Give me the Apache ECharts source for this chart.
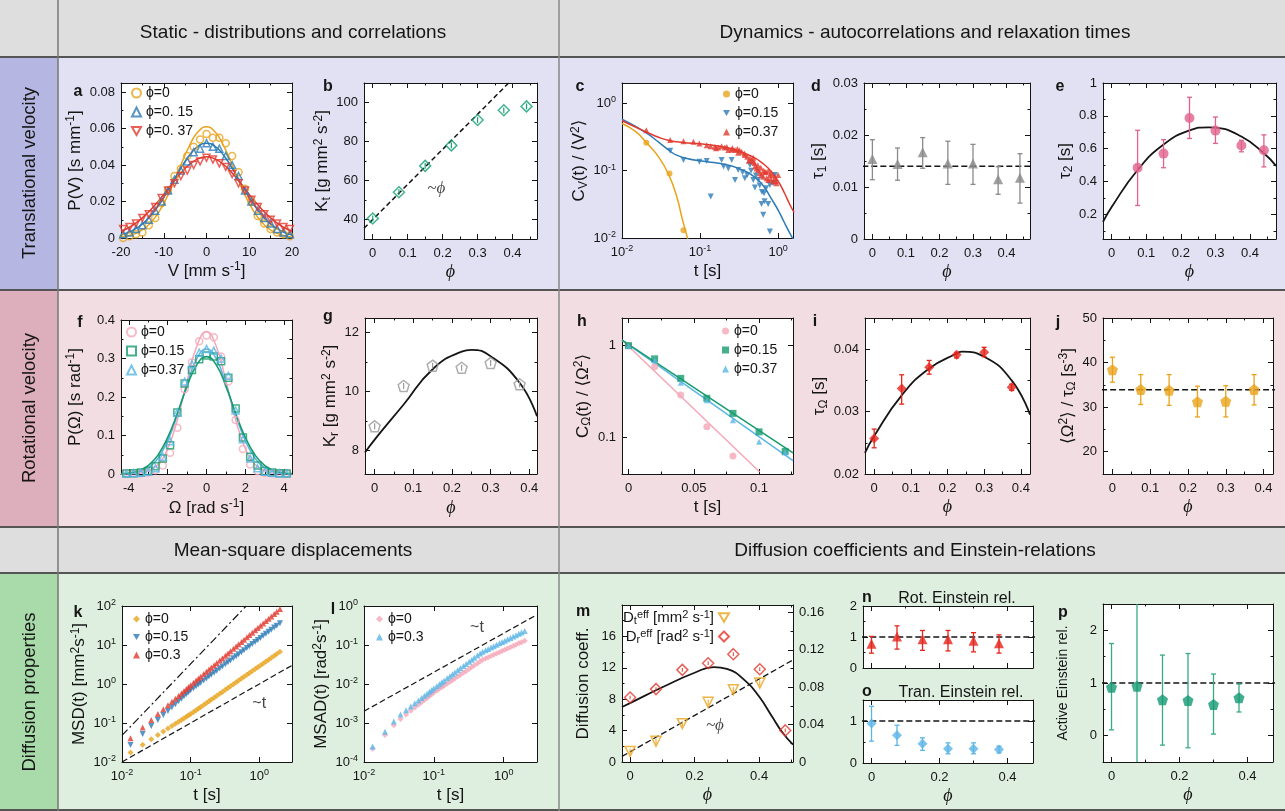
<!DOCTYPE html>
<html><head><meta charset="utf-8">
<script src="https://cdn.jsdelivr.net/npm/echarts@6/dist/echarts.min.js"></script>
<style>html,body{margin:0;padding:0;background:#fff}#c{width:1285px;height:811px}</style>
</head><body><div id="c"></div>
<script>
// ================= DATA =================
const phi7 = [0, 0.075, 0.15, 0.225, 0.3, 0.375, 0.44];
const phi6 = [0, 0.075, 0.15, 0.225, 0.3, 0.375];
// a: velocity distributions
const aV  = [-19.5,-18,-16.5,-15,-13.5,-12,-10.5,-9,-7.5,-6,-4.5,-3,-1.5,0,1.5,3,4.5,6,7.5,9,10.5,12,13.5,15,16.5,18,19.5];
const aP0 = [0.000,0.001,0.002,0.003,0.007,0.011,0.019,0.026,0.034,0.038,0.045,0.050,0.054,0.057,0.055,0.055,0.052,0.045,0.036,0.027,0.020,0.012,0.008,0.005,0.003,0.002,0.001];
const aP1 = [0.002,0.003,0.005,0.007,0.010,0.015,0.020,0.026,0.032,0.037,0.042,0.047,0.049,0.052,0.050,0.049,0.045,0.040,0.034,0.026,0.020,0.015,0.011,0.008,0.005,0.003,0.002];
const aP2 = [0.005,0.006,0.008,0.011,0.013,0.017,0.022,0.026,0.030,0.034,0.037,0.040,0.042,0.044,0.043,0.041,0.039,0.035,0.030,0.026,0.021,0.017,0.013,0.010,0.008,0.006,0.005];
const aCx = [-20,-18,-16,-14,-12,-10,-8,-6,-4,-2,0,2,4,6,8,10,12,14,16,18,20];
const aC0 = [0.0006,0.0014,0.0031,0.0062,0.0113,0.0189,0.0289,0.0400,0.0506,0.0582,0.0610,0.0582,0.0506,0.0400,0.0289,0.0189,0.0113,0.0062,0.0031,0.0014,0.0006];
const aC1 = [0.0017,0.0033,0.0059,0.0098,0.0153,0.0222,0.0302,0.0383,0.0454,0.0503,0.0520,0.0503,0.0454,0.0383,0.0302,0.0222,0.0153,0.0098,0.0059,0.0033,0.0017];
const aC2 = [0.0037,0.0059,0.0091,0.0132,0.0182,0.0239,0.0299,0.0356,0.0403,0.0434,0.0445,0.0434,0.0403,0.0356,0.0299,0.0239,0.0182,0.0132,0.0091,0.0059,0.0037];
// b: translational kinetic energy
const bKt = [40.5, 54, 67.5, 78, 91, 96, 98];
const bKtLo = [39, 52.5, 66, 76.5, 89.5, 94.5, 96.5];
const bKtHi = [42, 55.5, 69, 79.5, 92.5, 97.5, 99.5];
const bLine = [[-0.025, 35.5], [0.5, 130]];
// c: velocity autocorrelation
const cPts0 = [[0.0205,0.26],[0.0406,0.091],[0.0612,0.013]];
const cFit0 = [[0.01,0.50],[0.015,0.38],[0.02,0.27],[0.03,0.155],[0.04,0.085],[0.05,0.042],[0.06,0.018],[0.07,0.0095]];
const cPts1 = [[0.0414,0.197],[0.0613,0.144],[0.098,0.136],[0.1217,0.139],[0.1368,0.0412],[0.189,0.144],[0.2,0.115],[0.23,0.108],[0.254,0.144],[0.28,0.0727],[0.308,0.102],[0.35,0.095],[0.375,0.0769],[0.402,0.0861],[0.435,0.121],[0.45,0.1],[0.48,0.0727],[0.504,0.056],[0.52,0.085],[0.556,0.0727],[0.58,0.06],[0.612,0.0321],[0.62,0.048],[0.644,0.0221],[0.66,0.0462],[0.67,0.035],[0.7,0.055],[0.745,0.0321],[0.783,0.0614],[0.783,0.0125],[0.863,0.0649],[0.906,0.0861]];
const cFit1 = [[0.01,0.58],[0.02,0.37],[0.03,0.26],[0.04,0.2],[0.05,0.17],[0.07,0.15],[0.1,0.14],[0.15,0.132],[0.2,0.125],[0.3,0.11],[0.4,0.095],[0.5,0.08],[0.6,0.066],[0.7,0.052],[0.8,0.04],[1.0,0.026],[1.2,0.017],[1.4,0.012],[1.6,0.009]];
const cPts2 = [[0.0205,0.398],[0.0414,0.284],[0.0613,0.274],[0.0822,0.268],[0.098,0.253],[0.1217,0.239],[0.1368,0.231],[0.155,0.226],[0.16,0.215],[0.171,0.221],[0.189,0.231],[0.208,0.221],[0.22,0.225],[0.23,0.202],[0.254,0.206],[0.26,0.215],[0.28,0.202],[0.3,0.21],[0.308,0.184],[0.32,0.2],[0.34,0.19],[0.37,0.18],[0.375,0.17],[0.402,0.161],[0.42,0.14],[0.435,0.152],[0.457,0.144],[0.48,0.136],[0.48,0.155],[0.5,0.13],[0.504,0.115],[0.529,0.108],[0.55,0.12],[0.556,0.102],[0.583,0.0912],[0.6,0.11],[0.612,0.0861],[0.644,0.0814],[0.65,0.1],[0.676,0.0966],[0.7,0.095],[0.71,0.0769],[0.745,0.0727],[0.75,0.1],[0.783,0.0861],[0.8,0.075],[0.822,0.0912],[0.863,0.0687],[0.88,0.085],[0.906,0.0769],[0.93,0.07],[0.952,0.0649],[1.0,0.0861]];
const cFit2 = [[0.01,0.55],[0.02,0.38],[0.03,0.31],[0.04,0.28],[0.06,0.262],[0.1,0.25],[0.15,0.237],[0.2,0.225],[0.3,0.2],[0.4,0.175],[0.5,0.155],[0.6,0.135],[0.8,0.1],[1.0,0.07],[1.2,0.047],[1.4,0.032],[1.6,0.024]];
// d: tau1
const dTau = [0.0154,0.0144,0.0167,0.0145,0.0145,0.0115,0.0118];
const dLo  = [0.0114,0.0113,0.0136,0.0105,0.0105,0.0086,0.0069];
const dHi  = [0.0191,0.0175,0.0195,0.0188,0.0182,0.0139,0.0164];
const dMean = [[-0.03,0.014],[0.5,0.014]];
// e: tau2
const ePhi = [0.075, 0.15, 0.225, 0.3, 0.375, 0.44];
const eTau = [0.484,0.570,0.787,0.710,0.619,0.590];
const eLo  = [0.254,0.484,0.662,0.632,0.581,0.489];
const eHi  = [0.712,0.655,0.913,0.793,0.651,0.684];
const eFitX = [-0.025,0,0.075,0.15,0.225,0.28,0.3,0.375,0.44,0.475];
const eFitY = [0.154,0.245,0.47,0.625,0.711,0.73,0.728,0.674,0.572,0.495];
// f: angular velocity distributions
const fW  = [-4.125,-3.75,-3.375,-3,-2.625,-2.25,-1.875,-1.5,-1.125,-0.75,-0.375,0,0.375,0.75,1.125,1.5,1.875,2.25,2.625,3,3.375,3.75,4.125];
const fP0 = [0.001,0.001,0.002,0.004,0.010,0.022,0.055,0.12,0.22,0.29,0.345,0.36,0.355,0.305,0.24,0.14,0.065,0.025,0.008,0.003,0.002,0.001,0.001];
const fP1 = [0.001,0.002,0.004,0.008,0.020,0.040,0.075,0.16,0.235,0.27,0.298,0.308,0.305,0.293,0.25,0.17,0.095,0.045,0.022,0.008,0.004,0.002,0.001];
const fP2 = [0.001,0.002,0.003,0.006,0.015,0.045,0.085,0.16,0.24,0.285,0.315,0.325,0.32,0.30,0.255,0.165,0.09,0.04,0.015,0.006,0.003,0.002,0.001];
const fCx = [-4.4,-4,-3.5,-3,-2.5,-2,-1.5,-1,-0.5,0,0.5,1,1.5,2,2.5,3,3.5,4,4.4];
const fC0 = [0.0001,0.0004,0.0019,0.0077,0.025,0.066,0.141,0.241,0.332,0.370,0.332,0.241,0.141,0.066,0.025,0.0077,0.0019,0.0004,0.0001];
const fC1 = [0.0011,0.0028,0.0085,0.0219,0.0491,0.0946,0.158,0.2277,0.2835,0.305,0.2835,0.2277,0.158,0.0946,0.0491,0.0219,0.0085,0.0028,0.0011];
const fC2 = [0.0005,0.0016,0.0056,0.0164,0.041,0.0862,0.154,0.2333,0.299,0.325,0.299,0.2333,0.154,0.0862,0.041,0.0164,0.0056,0.0016,0.0005];
// g: rotational kinetic energy
const gKr = [8.82,10.19,10.88,10.81,10.97,10.25];
const gLo = [8.72,10.09,10.78,10.71,10.87,10.15];
const gHi = [8.92,10.29,10.98,10.91,11.07,10.35];
const gFitX = [-0.025,0,0.075,0.15,0.225,0.25,0.3,0.375,0.42];
const gFitY = [7.93,8.37,9.56,10.76,11.36,11.42,11.2,10.3,9.16];
// h: angular velocity autocorrelation
const hT  = [0, 0.02, 0.04, 0.06, 0.08, 0.1, 0.12];
const hC0 = [1.0, 0.588, 0.29, 0.131, 0.063];
const hC1 = [1.0, 0.718, 0.44, 0.267, 0.183, 0.115, 0.0705];
const hC2 = [1.0, 0.69, 0.394, 0.254, 0.154, 0.0897, 0.0687];
const hFit0 = [[-0.005,1.15],[0.1005,0.042]];
const hFit1 = [[-0.005,1.15],[0.126,0.068]];
const hFit2 = [[-0.005,1.15],[0.126,0.056]];
// i: tau_Omega
const iTau = [0.0257,0.0337,0.0371,0.0391,0.0395,0.0339];
const iLo  = [0.0242,0.0312,0.0360,0.0386,0.0388,0.0334];
const iHi  = [0.0272,0.0359,0.0382,0.0395,0.0403,0.0344];
const iFitX = [-0.025,0,0.075,0.15,0.225,0.24,0.3,0.375,0.425];
const iFitY = [0.0234,0.0261,0.0326,0.0369,0.0393,0.0396,0.0388,0.0350,0.0295];
// j: <Omega^2>/tau_Omega
const jVal = [38.4,33.95,33.8,31.2,31.3,33.95];
const jLo  = [35.6,30.6,30.4,27.8,27.8,30.5];
const jHi  = [41.2,37.3,37.3,34.7,34.8,37.3];
const jMean = [[-0.03,33.9],[0.45,33.9]];
// k: MSD
const kT = [0.0133,0.02,0.0267,0.0333,0.04,0.0467,0.0533,0.06,0.0667,0.0733,0.08,0.0867,0.0933,0.1,0.11,0.12,0.13,0.14,0.155,0.17,0.185,0.2,0.22,0.24,0.265,0.29,0.32,0.35,0.38,0.42,0.46,0.5,0.55,0.6,0.66,0.72,0.79,0.87,0.95,1.04,1.14,1.25,1.37,1.5,1.65,1.8,2.0];
const kMsd0 = [0.0174,0.0276,0.0383,0.049,0.0604,0.0719,0.0835,0.0955,0.1075,0.1197,0.1321,0.1446,0.1573,0.17,0.191,0.2125,0.2344,0.2567,0.2908,0.326,0.3613,0.3976,0.4467,0.4971,0.5617,0.6275,0.7075,0.7898,0.8738,0.9872,1.104,1.223,1.374,1.53,1.718,1.912,2.142,2.411,2.686,3.002,3.361,3.762,4.204,4.702,5.285,5.877,6.693];
const kMsd1 = [0.0274,0.0526,0.0835,0.1187,0.1593,0.204,0.252,0.3045,0.361,0.419,0.483,0.549,0.618,0.69,0.782,0.877,0.975,1.075,1.23,1.391,1.554,1.722,1.952,2.19,2.499,2.815,3.203,3.607,4.019,4.586,5.171,5.772,6.553,7.343,8.33,9.345,10.56,11.99,13.46,15.18,17.15,19.36,21.82,24.63,27.91,31.31,36.01];
const kMsd2 = [0.0408,0.0768,0.12,0.169,0.225,0.286,0.351,0.421,0.496,0.574,0.658,0.745,0.836,0.93,1.073,1.222,1.378,1.539,1.794,2.063,2.34,2.631,3.033,3.457,4.016,4.597,5.324,6.094,6.891,8.006,9.174,10.4,12.0,13.67,15.77,17.97,20.66,23.86,27.23,31.2,35.82,41.12,47.15,54.02,62.32,70.97,83.2];
const kBallistic = [[0.01,0.048],[0.646,100]];
const kLinear = [[0.01,0.01],[3,3]];
// l: MSAD
const lMsad0 = [2.19e-4,4.9e-4,8.71e-4,1.27e-3,1.65e-3,2.05e-3,2.48e-3,2.92e-3,3.4e-3,3.88e-3,4.4e-3,4.92e-3,5.46e-3,6.03e-3,6.75e-3,7.5e-3,8.26e-3,9.02e-3,0.0102,0.0114,0.0126,0.0138,0.0155,0.0172,0.0194,0.0216,0.0243,0.0271,0.0299,0.0337,0.0377,0.0417,0.045,0.0483,0.0522,0.056,0.0605,0.0655,0.0703,0.0757,0.0815,0.0879,0.0948,0.1019,0.1102,0.118,0.1288];
const lMsad1 = [2.51e-4,5.96e-4,1.1e-3,1.64e-3,2.12e-3,2.64e-3,3.19e-3,3.77e-3,4.38e-3,5.0e-3,5.66e-3,6.34e-3,7.03e-3,7.76e-3,8.81e-3,9.91e-3,0.01104,0.01219,0.014,0.0158,0.0177,0.0197,0.0224,0.0252,0.0288,0.0324,0.0371,0.0419,0.0468,0.0535,0.0605,0.0676,0.0735,0.0794,0.0865,0.0931,0.1012,0.1102,0.1189,0.1288,0.1396,0.1514,0.1644,0.1778,0.1932,0.2084,0.2291];
const lLinear = [[0.01,0.002],[3,0.6]];
// m: diffusion coefficients
const mPhi = [0, 0.0804, 0.162, 0.242, 0.32, 0.402, 0.481];
const mDt  = [1.35, 2.63, 4.88, 7.6, 9.2, 10.06];
const mDr  = [0.069, 0.078, 0.0986, 0.1057, 0.1154, 0.0993, 0.0338];
const mDrFit = [[-0.025,0.0588],[0,0.063],[0.1,0.080],[0.2,0.0955],[0.26,0.1015],[0.3,0.0996],[0.36,0.086],[0.4,0.070],[0.44,0.0487],[0.47,0.0327],[0.505,0.0185]];
const mDtLine = [[-0.025,0.71],[0.505,13.0]];
// n, o, p: Einstein relations
const nRot = [0.78,1.02,0.93,0.93,0.88,0.80];
const nLo  = [0.48,0.61,0.57,0.55,0.52,0.48];
const nHi  = [1.02,1.36,1.21,1.21,1.14,1.07];
const oTra = [0.94,0.66,0.46,0.34,0.34,0.32];
const oLo  = [0.52,0.42,0.30,0.22,0.22,0.24];
const oHi  = [1.35,0.90,0.60,0.48,0.48,0.40];
const pAct = [0.92,0.94,0.68,0.67,0.59,0.72];
const pLo  = [0.11,-1.5,-0.18,-0.23,0.03,0.45];
const pHi  = [1.75,3.4,1.53,1.56,1.17,0.98];
const unity = [[-0.03,1],[0.5,1]];

// ================= STYLE / HELPERS =================
const FONT = '"Liberation Sans", Arial, "DejaVu Sans", sans-serif';
const INK = '#151515';
const YEL='#e9a41d', BLU='#2c7bb6', RED='#e23a2f', GRN='#17a077', GRY='#8a8a8a', PNK='#e0628d',
      LPK='#f5a7b8', TEAL='#179b6e', LBL='#5bb5e6', RED2='#e5251d', ORG='#eaa21a', TEAL2='#139a73';
const PENT = 'path://M0,-10L9.51,-3.09L5.88,8.09L-5.88,8.09L-9.51,-3.09Z';
const TDOWN = 'path://M-10,-8.66L10,-8.66L0,8.66Z';
const RICH = {
  sub: {fontSize: 12, lineHeight: 12, verticalAlign: 'bottom', fontFamily: FONT, color: INK},
  sup: {fontSize: 12, lineHeight: 12, verticalAlign: 'top', fontFamily: FONT, color: INK}
};
const RICHS = {
  sub: {fontSize: 10, lineHeight: 10, verticalAlign: 'bottom', fontFamily: FONT, color: INK},
  sup: {fontSize: 10, lineHeight: 10, verticalAlign: 'top', fontFamily: FONT, color: INK}
};
const RICHM = {
  b: {fontSize: 15, fontFamily: FONT, color: INK},
  sub: {fontSize: 11, lineHeight: 11, verticalAlign: 'bottom', fontFamily: FONT, color: INK},
  sup: {fontSize: 11, lineHeight: 11, verticalAlign: 'top', fontFamily: FONT, color: INK}
};
const RICHL = {s: {fontSize: 9, lineHeight: 9, verticalAlign: 'top', fontFamily: FONT, color: INK}};
const NAME = {fontSize: 17, fontFamily: FONT, color: INK, lineHeight: 20, rich: RICH};
const NAME14 = {fontSize: 14, fontFamily: FONT, color: INK, lineHeight: 18, rich: RICHS};
const PHI = {fontSize: 18, fontFamily: '"Liberation Serif", "DejaVu Serif", serif', fontStyle: 'italic', color: INK, lineHeight: 20};
const pow10 = v => '10{s|' + Math.round(Math.log10(v)) + '}';

const grids = [], xAxis = [], yAxis = [], series = [], legends = [], gfx = [];

function mkAxis(o, gi, pos, mirror) {
  const log = o.type === 'log';
  const ax = {
    gridIndex: gi, type: log ? 'log' : 'value', position: pos, logBase: 10,
    min: o.min, max: o.max,
    axisLine: {show: true, onZero: false, lineStyle: {color: INK, width: 1}},
    axisTick: {show: true, inside: true, length: 5, lineStyle: {color: INK, width: 1}},
    minorTick: {show: !log && !!o.minor, splitNumber: o.minor || 2, length: 2.5, lineStyle: {color: INK, width: 1}},
    splitLine: {show: false},
    axisLabel: {show: !mirror && o.labels !== false, fontSize: 13, fontFamily: FONT, color: INK, margin: 6,
      showMinLabel: !!o.showMin, showMaxLabel: !!o.showMax, rich: RICHL, lineHeight: 16},
    silent: true
  };
  if (o.fmt) ax.axisLabel.formatter = o.fmt;
  if (o.interval !== undefined) ax.interval = o.interval;
  if (o.split !== undefined) ax.splitNumber = o.split;
  if (!mirror && o.name) {
    ax.name = o.name; ax.nameLocation = 'middle'; ax.nameGap = o.gap;
    ax.nameTextStyle = o.phi ? PHI : (o.small ? NAME14 : NAME);
  }
  return ax;
}
function panel(box, xo, yo, y2o) {
  const gi = grids.length;
  grids.push({left: box[0], top: box[1], width: box[2] - box[0], height: box[3] - box[1],
    show: true, backgroundColor: '#fff', borderWidth: 0});
  const xi = xAxis.length;
  xAxis.push(mkAxis(xo, gi, 'bottom', false));
  xAxis.push(mkAxis(xo, gi, 'top', true));
  const yi = yAxis.length;
  yAxis.push(mkAxis(yo, gi, 'left', false));
  yAxis.push(y2o ? mkAxis(y2o, gi, 'right', false) : mkAxis(yo, gi, 'right', true));
  return {x: xi, y: yi, y2: yi + 1};
}
const zip = (xs, ys) => xs.map((x, i) => [x, ys[i]]);
const zip3 = (xs, a, b) => xs.map((x, i) => [x, a[i], b[i]]);
const hol = c => ({color: 'rgba(255,255,255,0)', borderColor: c, borderWidth: 1.5});
const fil = c => ({color: c});
function sc(P, name, data, symbol, size, style, yi) {
  series.push({type: 'scatter', name, xAxisIndex: P.x, yAxisIndex: yi === undefined ? P.y : yi, data,
    symbol, symbolSize: size, itemStyle: style, z: 5, silent: true, clip: true});
}
function ln(P, data, color, w, opt, yi) {
  opt = opt || {};
  series.push({type: 'line', xAxisIndex: P.x, yAxisIndex: yi === undefined ? P.y : yi, data,
    showSymbol: false, symbol: 'none', smooth: opt.smooth || false, clip: true, z: 3, silent: true,
    lineStyle: {color, width: w, type: opt.dash || 'solid'}});
}
function err(P, data, color, cap, w, yi) {
  series.push({type: 'custom', xAxisIndex: P.x, yAxisIndex: yi === undefined ? P.y : yi, data, clip: true, z: 4, silent: true,
    renderItem: (params, api) => {
      const x = api.value(0), a = api.coord([x, api.value(1)]), b = api.coord([x, api.value(2)]);
      const st = {stroke: color, lineWidth: w || 1.2, fill: null};
      return {type: 'group', children: [
        {type: 'line', shape: {x1: a[0], y1: a[1], x2: b[0], y2: b[1]}, style: st},
        {type: 'line', shape: {x1: a[0] - cap, y1: a[1], x2: a[0] + cap, y2: a[1]}, style: st},
        {type: 'line', shape: {x1: b[0] - cap, y1: b[1], x2: b[0] + cap, y2: b[1]}, style: st}
      ]};
    }});
}
function note(P, pos, text, style, yi) {
  series.push({type: 'scatter', xAxisIndex: P.x, yAxisIndex: yi === undefined ? P.y : yi, data: [pos],
    symbolSize: 1, itemStyle: {color: 'rgba(0,0,0,0)'}, z: 6, silent: true,
    label: {show: true, position: 'inside', formatter: text, ...style}});
}
const LAB = {};
function leg(items, left, top, opt) {
  items.forEach(it => { LAB[it[0]] = it[1]; });
  legends.push(Object.assign({
    orient: 'vertical', left, top, itemGap: 3, itemWidth: 9, itemHeight: 9, selectedMode: false, padding: 0,
    textStyle: {fontSize: 14, fontFamily: FONT, color: INK, rich: RICHS, lineHeight: 16},
    formatter: n => LAB[n], data: items.map(it => it[0])
  }, opt || {}));
}
const NOTE = {fontSize: 17, fontFamily: '"Liberation Serif", "DejaVu Serif", serif', fontStyle: 'italic', color: INK};
const NOTE_T = {fontSize: 16, fontFamily: FONT, color: INK};

// ================= PANELS =================
// a
const pa = panel([121, 83, 292, 238],
  {min: -20, max: 20, interval: 10, minor: 2, showMin: true, showMax: true, name: 'V [mm s{sup|-1}]', gap: 22},
  {min: 0, max: 0.085, interval: 0.02, minor: 2, showMin: true, name: 'P(V) [s mm{sup|-1}]', gap: 36});
ln(pa, zip(aCx, aC0), YEL, 1.5, {smooth: true});
ln(pa, zip(aCx, aC1), BLU, 1.5, {smooth: true});
ln(pa, zip(aCx, aC2), RED, 1.5, {smooth: true});
sc(pa, 'a0', zip(aV, aP0), 'circle', 7, hol(YEL));
sc(pa, 'a1', zip(aV, aP1), 'triangle', 7, hol(BLU));
sc(pa, 'a2', zip(aV, aP2), TDOWN, 7, hol(RED));
leg([['a0', 'ϕ=0'], ['a1', 'ϕ=0. 15'], ['a2', 'ϕ=0. 37']], 131, 85);

// b
const pb = panel([364, 83, 537, 239],
  {min: -0.025, max: 0.47, split: 5, minor: 2, name: 'ϕ', phi: true, gap: 22},
  {min: 30, max: 110, split: 4, minor: 2, name: 'K{sub|t} [g mm{sup|2} s{sup|-2}]', gap: 21});
ln(pb, bLine, INK, 1.5, {dash: [5, 3]});
err(pb, zip3(phi7, bKtLo, bKtHi), GRN, 0, 1.2);
sc(pb, 'b0', zip(phi7, bKt), 'diamond', 11, hol(GRN));
note(pb, [0.182, 55.8], '~ϕ', NOTE);

// c
const pc = panel([622, 83, 793, 238],
  {type: 'log', min: 0.01, max: 1.55, showMin: true, fmt: pow10, name: 't [s]', gap: 22},
  {type: 'log', min: 0.01, max: 2, showMin: true, fmt: pow10, name: 'C{sub|V}(t) / ⟨V{sup|2}⟩', gap: 27});
ln(pc, cFit0, YEL, 1.5, {smooth: true});
ln(pc, cFit1, BLU, 1.5, {smooth: true});
ln(pc, cFit2, RED, 1.5, {smooth: true});
sc(pc, 'c0', cPts0, 'circle', 6, fil(YEL));
sc(pc, 'c1', cPts1, TDOWN, 6, fil(BLU));
sc(pc, 'c2', cPts2, 'triangle', 6, fil(RED));
leg([['c0', 'ϕ=0'], ['c1', 'ϕ=0.15'], ['c2', 'ϕ=0.37']], 723, 86, {itemWidth: 7, itemHeight: 7, itemGap: 3});

// d
const pd = panel([864, 83, 1030, 239],
  {min: -0.025, max: 0.47, split: 5, minor: 2, name: 'ϕ', phi: true, gap: 22},
  {min: 0, max: 0.03, interval: 0.01, minor: 2, showMin: true, showMax: true, name: 'τ{sub|1} [s]', gap: 16});
ln(pd, dMean, INK, 1.5, {dash: [6, 3]});
err(pd, zip3(phi7, dLo, dHi), GRY, 2.5, 1.3);
sc(pd, 'd0', zip(phi7, dTau), 'triangle', 10, fil(GRY));

// e
const pe = panel([1103, 83, 1276, 239],
  {min: -0.025, max: 0.475, split: 5, minor: 2, name: 'ϕ', phi: true, gap: 22},
  {min: 0.05, max: 1, split: 5, minor: 2, showMax: true, name: 'τ{sub|2} [s]', gap: 25});
ln(pe, zip(eFitX, eFitY), INK, 1.8, {smooth: true});
err(pe, zip3(ePhi, eLo, eHi), PNK, 2.5, 1.3);
sc(pe, 'e0', zip(ePhi, eTau), 'circle', 10, fil(PNK));

// f
const pf = panel([121, 320, 292, 474],
  {min: -4.4, max: 4.4, split: 4, minor: 2, name: 'Ω [rad s{sup|-1}]', gap: 24},
  {min: 0, max: 0.4, interval: 0.1, minor: 2, showMin: true, showMax: true, name: 'P(Ω) [s rad{sup|-1}]', gap: 36});
ln(pf, zip(fCx, fC0), LPK, 1.5, {smooth: true});
ln(pf, zip(fCx, fC2), LBL, 1.5, {smooth: true});
ln(pf, zip(fCx, fC1), TEAL, 1.6, {smooth: true});
sc(pf, 'f0', zip(fW, fP0), 'circle', 7, hol(LPK));
sc(pf, 'f1', zip(fW, fP1), 'rect', 7, hol(TEAL));
sc(pf, 'f2', zip(fW, fP2), 'triangle', 7, hol(LBL));
leg([['f0', 'ϕ=0'], ['f1', 'ϕ=0.15'], ['f2', 'ϕ=0.37']], 126, 324);

// g
const pg = panel([365, 318, 537, 474],
  {min: -0.025, max: 0.42, split: 5, minor: 2, name: 'ϕ', phi: true, gap: 24},
  {min: 7.2, max: 12.5, split: 3, minor: 2, name: 'K{sub|r} [g mm{sup|2} s{sup|-2}]', gap: 22});
ln(pg, zip(gFitX, gFitY), INK, 1.8, {smooth: true});
err(pg, zip3(phi6, gLo, gHi), '#9a9a9a', 0, 1.2);
sc(pg, 'g0', zip(phi6, gKr), PENT, 11, hol('#9a9a9a'));

// h
const ph = panel([622, 318, 793, 474],
  {min: -0.005, max: 0.126, split: 3, minor: 2, name: 't [s]', gap: 19},
  {type: 'log', min: 0.04, max: 2, fmt: v => (Math.abs(v - 1) < 1e-6 ? '1' : Math.abs(v - 0.1) < 1e-6 ? '0.1' : ''), name: 'C{sub|Ω}(t) / ⟨Ω{sup|2}⟩', gap: 29});
ln(ph, hFit0, LPK, 1.5);
ln(ph, hFit2, LBL, 1.5);
ln(ph, hFit1, TEAL, 1.5);
sc(ph, 'h0', zip(hT.slice(0, 5), hC0), 'circle', 7, fil(LPK));
sc(ph, 'h1', zip(hT, hC1), 'rect', 7, fil(TEAL));
sc(ph, 'h2', zip(hT, hC2), 'triangle', 6, fil(LBL));
leg([['h0', 'ϕ=0'], ['h1', 'ϕ=0.15'], ['h2', 'ϕ=0.37']], 722, 323, {itemWidth: 7, itemHeight: 7, itemGap: 3});

// i
const pi = panel([865, 318, 1030, 474],
  {min: -0.025, max: 0.425, split: 5, minor: 2, name: 'ϕ', phi: true, gap: 19},
  {min: 0.02, max: 0.045, interval: 0.01, minor: 2, showMin: true, name: 'τ{sub|Ω} [s]', gap: 17});
ln(pi, zip(iFitX, iFitY), INK, 1.8, {smooth: true});
err(pi, zip3(phi6, iLo, iHi), RED2, 2.5, 1.3);
sc(pi, 'i0', zip(phi6, iTau), 'diamond', 10, fil(RED2));

// j
const pj = panel([1103, 318, 1273, 474],
  {min: -0.025, max: 0.425, split: 5, minor: 2, name: 'ϕ', phi: true, gap: 19},
  {min: 15, max: 50, split: 4, minor: 2, showMax: true, name: '⟨Ω{sup|2}⟩ / τ{sub|Ω} [s{sup|-3}]', gap: 25});
ln(pj, jMean, INK, 1.5, {dash: [6, 3]});
err(pj, zip3(phi6, jLo, jHi), ORG, 2.5, 1.3);
sc(pj, 'j0', zip(phi6, jVal), PENT, 11, fil(ORG));

// k
const pk = panel([122, 606, 292, 762],
  {type: 'log', min: 0.01, max: 3, showMin: true, fmt: pow10, name: 't [s]', gap: 20},
  {type: 'log', min: 0.01, max: 100, showMin: true, showMax: true, fmt: pow10, name: 'MSD(t) [mm{sup|2}s{sup|-1}]', gap: 32});
ln(pk, kBallistic, INK, 1.2, {dash: [8, 3, 2, 3]});
ln(pk, kLinear, INK, 1.2, {dash: [6, 3]});
sc(pk, 'k0', zip(kT, kMsd0), 'diamond', 6, fil(YEL));
sc(pk, 'k1', zip(kT, kMsd1), TDOWN, 6, fil(BLU));
sc(pk, 'k2', zip(kT, kMsd2), 'triangle', 6, fil(RED));
note(pk, [1.0, 0.315], '~t', NOTE_T);
leg([['k0', 'ϕ=0'], ['k1', 'ϕ=0.15'], ['k2', 'ϕ=0.3']], 133, 611, {itemWidth: 7, itemHeight: 7, itemGap: 2});

// l
const pl = panel([364, 606, 537, 762],
  {type: 'log', min: 0.01, max: 3, showMin: true, fmt: pow10, name: 't [s]', gap: 20},
  {type: 'log', min: 1e-4, max: 1, showMin: true, showMax: true, fmt: pow10, name: 'MSAD(t) [rad{sup|2}s{sup|-1}]', gap: 29});
ln(pl, lLinear, INK, 1.2, {dash: [6, 3]});
sc(pl, 'l0', zip(kT, lMsad0), 'diamond', 6, fil(LPK));
sc(pl, 'l1', zip(kT, lMsad1), 'triangle', 6, fil(LBL));
note(pl, [0.414, 0.285], '~t', NOTE_T);
leg([['l0', 'ϕ=0'], ['l1', 'ϕ=0.3']], 376, 611, {itemWidth: 7, itemHeight: 7, itemGap: 2});

// m
const pm = panel([622, 605, 793, 762],
  {min: -0.025, max: 0.505, split: 3, minor: 2, name: 'ϕ', phi: true, gap: 20},
  {min: 0, max: 20, interval: 4, minor: 2, showMin: true, name: 'Diffusion coeff.', gap: 29},
  {min: 0, max: 0.168, interval: 0.04, minor: 2, showMin: true});
ln(pm, mDtLine, INK, 1.3, {dash: [6, 3]});
ln(pm, mDrFit, INK, 1.8, {smooth: true}, pm.y2);
err(pm, zip3(mPhi.slice(0, 6), mDt.map(v => v - 0.35), mDt.map(v => v + 0.35)), ORG, 0, 1);
err(pm, zip3(mPhi, mDr.map(v => v - 0.002), mDr.map(v => v + 0.002)), RED, 0, 1, pm.y2);
sc(pm, 'm0', zip(mPhi.slice(0, 6), mDt), TDOWN, 10, hol(ORG));
sc(pm, 'm1', zip(mPhi, mDr), 'diamond', 11, hol(RED), pm.y2);
note(pm, [0.263, 4.62], '~ϕ', NOTE);
leg([['m0', 'D{sub|t}{sup|eff} [mm{sup|2} s{sup|-1}]'], ['m1', 'D{sub|r}{sup|eff} [rad{sup|2} s{sup|-1}]']], 623, 609,
  {align: 'right', itemWidth: 10, itemHeight: 10, itemGap: 2,
   textStyle: {fontSize: 15, fontFamily: FONT, color: INK, rich: RICHM, lineHeight: 17}});

// n
const pn = panel([863, 606, 1033, 668],
  {min: -0.025, max: 0.475, split: 3, minor: 2, labels: false},
  {min: 0, max: 2, interval: 1, minor: 2, showMin: true, showMax: true});
ln(pn, unity, INK, 1.5, {dash: [6, 3]});
err(pn, zip3(phi6, nLo, nHi), RED2, 2.5, 1.3);
sc(pn, 'n0', zip(phi6, nRot), 'triangle', 10, fil(RED2));

// o
const po = panel([863, 700, 1033, 763],
  {min: -0.025, max: 0.475, split: 3, minor: 2, name: 'ϕ', phi: true, gap: 18},
  {min: 0, max: 1.5, interval: 1, minor: 2, showMin: true});
ln(po, unity, INK, 1.5, {dash: [6, 3]});
err(po, zip3(phi6, oLo, oHi), LBL, 2.5, 1.3);
sc(po, 'o0', zip(phi6, oTra), 'diamond', 10, fil(LBL));

// p
const pp = panel([1103, 604, 1273, 762],
  {min: -0.025, max: 0.475, split: 3, minor: 2, name: 'ϕ', phi: true, gap: 19},
  {min: -0.5, max: 2.5, split: 3, minor: 2, name: 'Active Einstein rel.', gap: 31, small: true});
ln(pp, unity, INK, 1.5, {dash: [6, 3]});
err(pp, zip3(phi6, pLo, pHi), '#3aaa85', 2.5, 1.3);
sc(pp, 'p0', zip(phi6, pAct), PENT, 11, fil(TEAL2));

// ================= LAYOUT (table backgrounds, headers, panel letters) =================
const rect = (x, y, w, h, fill) => ({type: 'rect', z: -100, silent: true, shape: {x, y, width: w, height: h}, style: {fill}});
const hline = (y, c, w) => ({type: 'line', z: -90, silent: true, shape: {x1: 0, y1: y, x2: 1285, y2: y}, style: {stroke: c, lineWidth: w}});
const vline = (x, y1, y2, c, w) => ({type: 'line', z: -90, silent: true, shape: {x1: x, y1, x2: x, y2}, style: {stroke: c, lineWidth: w}});
const txt = (x, y, text, font, rot, extra) => Object.assign({type: 'text', x, y, rotation: rot || 0, z: 50, silent: true,
  style: Object.assign({text, fill: INK, align: 'center', verticalAlign: 'middle', font}, extra || {})});
gfx.push(
  rect(0, 0, 1285, 57, '#dedede'),
  rect(0, 57, 1285, 233, '#e1e1f3'), rect(0, 57, 58, 233, '#b6b6e2'),
  rect(0, 290, 1285, 237, '#f1dde2'), rect(0, 290, 58, 237, '#ddaebb'),
  rect(0, 527, 1285, 46, '#dedede'),
  rect(0, 573, 1285, 238, '#deefdf'), rect(0, 573, 58, 238, '#a9dbaa'),
  hline(57, '#555', 2), hline(290, '#555', 2), hline(527, '#555', 2), hline(573, '#555', 2), hline(810, '#555', 2),
  vline(58, 0, 811, '#777', 1.5), vline(559, 0, 811, '#888', 1.5),
  txt(293, 33, 'Static - distributions and correlations', '19px ' + FONT),
  txt(925, 33, 'Dynamics - autocorrelations and relaxation times', '19px ' + FONT),
  txt(293, 551, 'Mean-square displacements', '19px ' + FONT),
  txt(915, 551, 'Diffusion coefficients and Einstein-relations', '19px ' + FONT),
  txt(30, 173, 'Translational velocity', '18.5px ' + FONT, Math.PI / 2),
  txt(30, 408, 'Rotational velocity', '18.5px ' + FONT, Math.PI / 2),
  txt(30, 692, 'Diffusion properties', '18.5px ' + FONT, Math.PI / 2),
  txt(957, 599, 'Rot. Einstein rel.', '16px ' + FONT),
  txt(961, 693, 'Tran. Einstein rel.', '16px ' + FONT)
);
const letters = [['a', 78, 92], ['b', 328, 87], ['c', 580, 87], ['d', 816, 87], ['e', 1060, 87],
  ['f', 80, 323], ['g', 328, 317], ['h', 582, 322], ['i', 815, 322], ['j', 1058, 323],
  ['k', 78, 613], ['l', 333, 610], ['m', 583, 612], ['n', 867, 598], ['o', 867, 692], ['p', 1063, 613]];
letters.forEach(L => gfx.push(txt(L[1], L[2], L[0], 'bold 16px ' + FONT)));

const chart = echarts.init(document.getElementById('c'), null, {renderer: 'canvas'});
chart.setOption({
  animation: false, backgroundColor: '#fff', textStyle: {fontFamily: FONT},
  grid: grids, xAxis, yAxis, series, legend: legends, graphic: {elements: gfx}
});
</script></body></html>
